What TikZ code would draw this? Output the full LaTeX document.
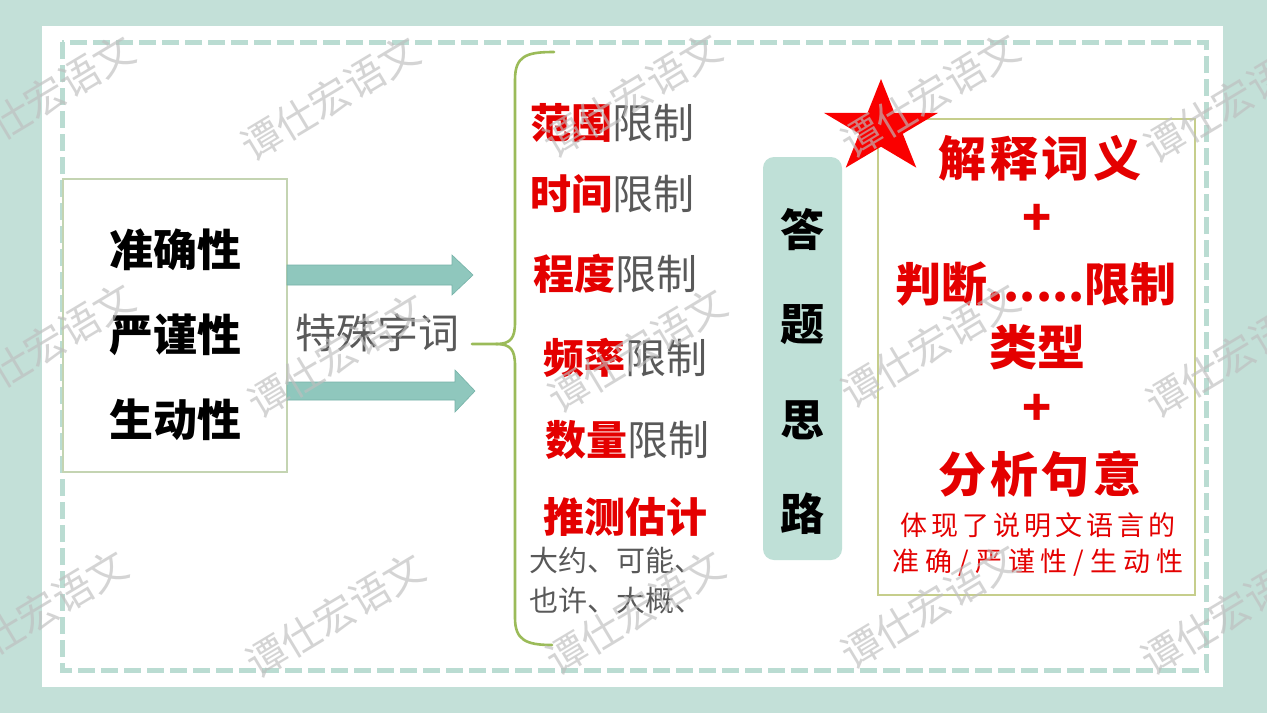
\documentclass[tikz,border=0pt]{standalone}
\usepackage{fontspec}
\newfontfamily\cjk{Noto Sans CJK SC}
\definecolor{bgteal}{RGB}{195,224,216}
\definecolor{dashteal}{RGB}{186,220,210}
\definecolor{arrowteal}{RGB}{143,199,189}
\definecolor{arrowedge}{RGB}{118,178,168}
\definecolor{boxteal}{RGB}{191,224,215}
\definecolor{bracegreen}{RGB}{155,187,89}
\definecolor{lboxedge}{RGB}{196,212,178}
\definecolor{rboxedge}{RGB}{198,206,140}
\definecolor{txtred}{RGB}{228,0,0}
\definecolor{starred}{RGB}{250,0,0}
\definecolor{txtgray}{RGB}{89,89,89}
\definecolor{wmgray}{RGB}{190,190,190}
\begin{document}
\begin{tikzpicture}[x=1pt,y=-1pt,
  every node/.style={inner sep=0pt, outer sep=0pt, font=\cjk},
  bigblack/.style={font=\cjk\bfseries\fontsize{44}{44}\selectfont, text=black},
  midgray/.style={font=\cjk\fontsize{41}{41}\selectfont, text=txtgray},
  listitem/.style={anchor=west, font=\cjk\fontsize{41}{41}\selectfont, text=txtgray},
  smallgray/.style={anchor=west, font=\cjk\fontsize{29}{29}\selectfont, text=txtgray},
  redbig/.style={font=\cjk\bfseries\fontsize{48}{48}\selectfont, text=txtred},
  redsmall/.style={font=\cjk\fontsize{27}{27}\selectfont, text=txtred},
  fatarrow/.style={fill=arrowteal, draw=arrowedge, line width=0.6pt},
  bracestyle/.style={draw=bracegreen, line width=2.6pt, line cap=round},
  wm/.style={font=\cjk\fontsize{40}{40}\selectfont, text=wmgray, opacity=0.65, rotate=31}
]
\useasboundingbox (0,0) rectangle (1267,713);
% background and frame
\fill[bgteal] (0,0) rectangle (1267,713);
\fill[white] (42,26) rectangle (1223,687);
\draw[dashteal, line width=5pt, dash pattern=on 17pt off 6pt] (62,42) rectangle (1206,670);

% left box
\node[draw=lboxedge, line width=1.3pt, fill=white, minimum width=224, minimum height=293] (lb) at (175,325.5) {};
\node[bigblack] (q1) at (175,250) {准确性};
\node[bigblack] (q2) at (175,335) {严谨性};
\node[bigblack] (q3) at (175,420) {生动性};

% arrows
\fill[fatarrow] (lb.east |- 0,265) -- (452,265) -- (452,255) -- (473,275) -- (452,295) -- (452,285) -- (lb.east |- 0,285) -- cycle;
\fill[fatarrow] (lb.east |- 0,382) -- (455,382) -- (455,370) -- (475,391) -- (455,412) -- (455,400) -- (lb.east |- 0,400) -- cycle;

\node[midgray] (sp) at (377,333) {特殊字词};

% brace
\coordinate (tip) at (472,344);
\draw[bracestyle] (554,52) .. controls (526,52) and (515,56) .. (515,80) -- (515,322)
  .. controls (515,338) and (511,344) .. (496,344) -- (tip);
\draw[bracestyle] (496,344) .. controls (511,344) and (515,350) .. (515,366) -- (515,618)
  .. controls (515,640) and (526,645) .. (552,645);

% list
\node[listitem] (l1) at (530,123) {\textcolor{txtred}{\bfseries 范围}限制};
\node[listitem] (l2) at (530,194) {\textcolor{txtred}{\bfseries 时间}限制};
\node[listitem] (l3) at (533,274) {\textcolor{txtred}{\bfseries 程度}限制};
\node[listitem] (l4) at (543,358) {\textcolor{txtred}{\bfseries 频率}限制};
\node[listitem] (l5) at (545,440) {\textcolor{txtred}{\bfseries 数量}限制};
\node[listitem, text=txtred, font=\cjk\bfseries\fontsize{41}{41}\selectfont] (l6) at (543,517) {推测估计};
\node[smallgray] (l7) at (529,560) {大约、可能、};
\node[smallgray] (l8) at (529,601) {也许、大概、};

% teal box
\node[fill=boxteal, rounded corners=11pt, minimum width=79, minimum height=403] (tb) at (802.5,358.5) {};
\node[bigblack] (d1) at (802,230) {答};
\node[bigblack] (d2) at (802,325) {题};
\node[bigblack] (d3) at (802,420) {思};
\node[bigblack] (d4) at (802,514) {路};

% right box
\node[draw=rboxedge, line width=1.2pt, fill=white, minimum width=317, minimum height=476] (rb) at (1036.5,357) {};
\node[redbig] (r1) at (1040,158) {\addfontfeatures{LetterSpace=8}解释词义};
\node[redbig] (r2) at (1037,220) {+};
\node[redbig, font=\cjk\bfseries\fontsize{46}{46}\selectfont] (r3) at (1036,284) {判断......限制};
\node[redbig] (r4) at (1037,347) {类型};
\node[redbig] (r5) at (1037,410) {+};
\node[redbig] (r6) at (1040,474) {\addfontfeatures{LetterSpace=8}分析句意};
\node[redsmall] (r7) at (1038,525) {\addfontfeatures{LetterSpace=15}体现了说明文语言的};
\node[redsmall] (r8) at (1038,563) {\addfontfeatures{LetterSpace=22}准确/严谨性/生动性};

% star
\begin{scope}[shift={(881,128)}, xscale=1.224]
\fill[starred] (-90:49) -- (-54:18.7) -- (-18:49) -- (18:18.7) -- (54:49) -- (90:18.7)
  -- (126:49) -- (162:18.7) -- (198:49) -- (234:18.7) -- cycle;
\end{scope}

% watermarks
\foreach \wx/\wy [count=\i] in {45/97, 330/98, 632/95, 930/95, 1233/100,
  45/345, 337/355, 637/350, 930/345, 1235/355,
  38/612, 335/615, 635/612, 930/606, 1230/612}
  \node[wm] (wm\i) at (\wx,\wy) {谭仕宏语文};
\end{tikzpicture}
\end{document}
